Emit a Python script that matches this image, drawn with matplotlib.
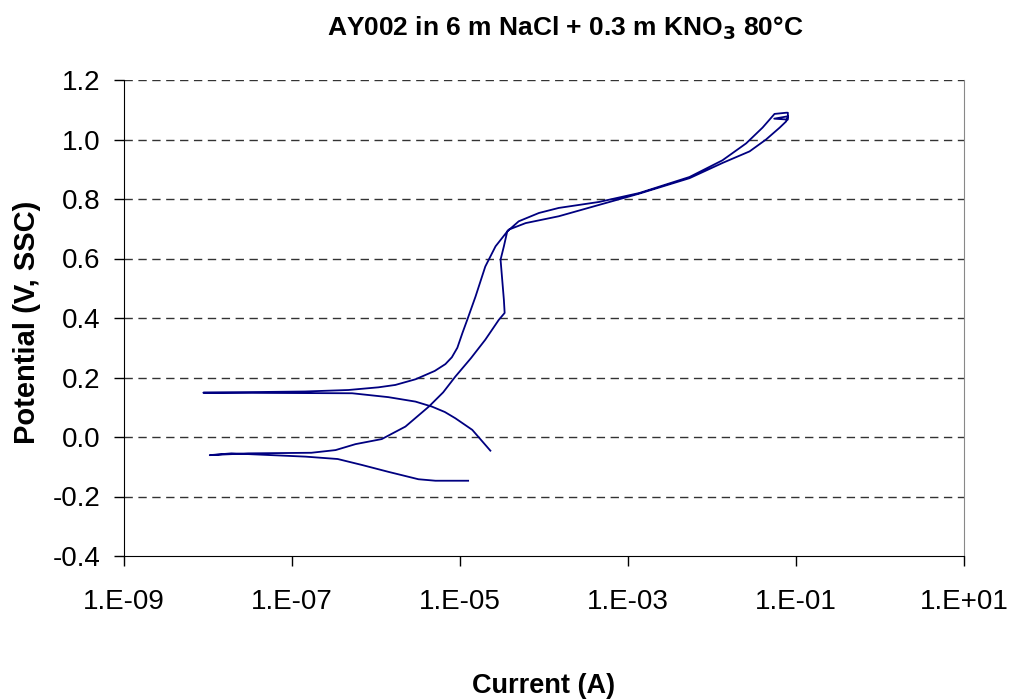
import matplotlib
matplotlib.use("Agg")
import matplotlib.pyplot as plt
from matplotlib.ticker import FixedLocator, NullLocator

plt.rcParams['font.family'] = ['Liberation Sans', 'DejaVu Sans']

# one continuous cyclic scan: cathodic start -> Ecorr -> anodic -> reversal -> back down
current = [
    1.25e-5, 5.1e-6, 3.2e-6, 1.4e-6, 6.8e-7, 3.5e-7, 1.45e-7, 1.9e-8, 1.05e-8,
    3.0e-8, 1.7e-7, 3.3e-7, 5.7e-7, 1.17e-6, 2.24e-6, 4.25e-6, 6.3e-6, 8.8e-6,
    1.35e-5, 2.0e-5, 2.9e-5, 3.4e-5, 3.33e-5, 3.18e-5, 3.04e-5, 3.33e-5, 3.65e-5,
    5.0e-5, 8.7e-5, 1.5e-4, 4.5e-4, 1.36e-3, 5.4e-3, 1.33e-2, 2.55e-2, 4.0e-2,
    4.85e-2, 5.55e-2, 7.65e-2, 8.0e-2, 8.0e-2, 5.5e-2, 8.0e-2,
    7.65e-2, 6.4e-2, 4.4e-2, 2.8e-2, 1.33e-2, 5.4e-3, 1.36e-3, 4.5e-4, 1.5e-4,
    6.05e-5, 3.8e-5, 2.65e-5, 2.0e-5, 1.53e-5, 1.22e-5, 1.07e-5, 9.3e-6, 8.0e-6,
    6.7e-6, 5.0e-6, 3.5e-6, 2.95e-6, 1.7e-6, 1.07e-6, 4.7e-7, 1.43e-7, 8.8e-9,
    5.2e-7, 1.4e-6, 2.95e-6, 4.65e-6, 6.6e-6, 8.8e-6, 1.4e-5, 2.3e-5,
]
potential = [
    -0.147, -0.147, -0.142, -0.117, -0.094, -0.074, -0.066, -0.055, -0.061,
    -0.055, -0.053, -0.044, -0.024, -0.007, 0.035, 0.102, 0.150, 0.203,
    0.265, 0.327, 0.394, 0.417, 0.461, 0.529, 0.596, 0.641, 0.691,
    0.725, 0.753, 0.770, 0.790, 0.820, 0.874, 0.930, 0.987, 1.040,
    1.067, 1.086, 1.090, 1.090, 1.067, 1.070, 1.078,
    1.061, 1.040, 1.000, 0.960, 0.921, 0.870, 0.818, 0.780, 0.742,
    0.719, 0.697, 0.641, 0.573, 0.472, 0.394, 0.350, 0.300, 0.268,
    0.245, 0.222, 0.203, 0.194, 0.175, 0.167, 0.158, 0.153, 0.149,
    0.147, 0.134, 0.119, 0.102, 0.084, 0.063, 0.024, -0.046,
]

x_ticks = [1e-9, 1e-7, 1e-5, 1e-3, 1e-1, 1e1]
x_labels = ["1.E-09", "1.E-07", "1.E-05", "1.E-03", "1.E-01", "1.E+01"]
y_ticks = [-0.4, -0.2, 0.0, 0.2, 0.4, 0.6, 0.8, 1.0, 1.2]

fig = plt.figure(figsize=(10.1, 7.0), dpi=100)
ax = fig.add_axes([124 / 1010, 1 - 556 / 700, (964 - 124) / 1010, (556 - 80) / 700])

ax.plot(current, potential, color="#000080", linewidth=1.3)

ax.set_xscale("log")
ax.set_xlim(1e-9, 1e1)
ax.set_ylim(-0.4, 1.2)
ax.xaxis.set_major_locator(FixedLocator(x_ticks))
ax.xaxis.set_minor_locator(NullLocator())
ax.set_xticks(x_ticks)
ax.set_xticklabels(x_labels)
ax.set_yticks(y_ticks)
ax.set_yticklabels([f"{v:.1f}" for v in y_ticks])

for v in y_ticks[1:]:
    ax.axhline(v, color="#333333", linewidth=1, linestyle=(0, (6, 4)), zorder=0)

ax.spines["top"].set_visible(False)
ax.spines["right"].set_color("#888888")
ax.spines["left"].set_color("black")
ax.spines["bottom"].set_color("black")
ax.tick_params(direction="out", length=7, width=1, labelsize=20)
ax.tick_params(axis="y", pad=10)
ax.tick_params(axis="x", pad=17)

fig.text(565 / 1010, 1 - 36 / 700, "AY002 in 6 m NaCl + 0.3 m KNO$_\\mathbf{3}$ 80°C",
         ha="center", va="baseline", fontsize=19, fontweight="bold")
fig.text(544 / 1010, 1 - 693 / 700, "Current (A)", ha="center", va="baseline",
         fontsize=19.5, fontweight="bold")
fig.text(27 / 1010, 1 - 322 / 700, "Potential (V, SSC)", ha="center", va="center",
         rotation=90, fontsize=21, fontweight="bold")

fig.savefig("out.png", dpi=100)
